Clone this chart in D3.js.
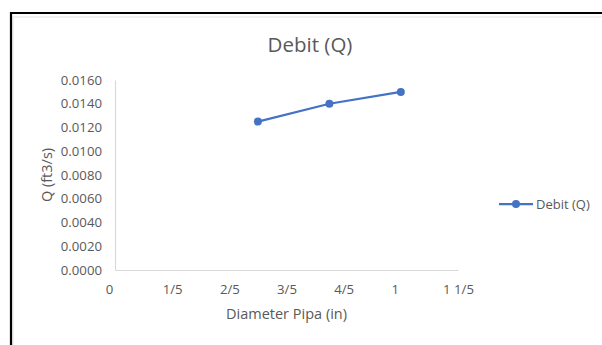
<!DOCTYPE html>
<html>
<head>
<meta charset="utf-8">
<script src="https://cdn.jsdelivr.net/npm/d3@7/dist/d3.min.js"></script>
<style>
  html, body { margin: 0; padding: 0; background: #fff; }
  svg { display: block; }
  text { font-family: "Open Sans", "Noto Sans", sans-serif; fill: #595959; }
</style>
</head>
<body>
<svg id="chart" width="602" height="345"></svg>
<script>
// Pipe diameter (in) and measured discharge Q (ft3/s)
const diameters = [0.5, 0.75, 1.0];
const debitValues = [0.0125, 0.0140, 0.0150];
const yTicks = [0, 0.002, 0.004, 0.006, 0.008, 0.010, 0.012, 0.014, 0.016];
const xTicks = [0, 0.2, 0.4, 0.6, 0.8, 1.0, 1.2];
const xTickLabels = ["0", "1/5", "2/5", "3/5", "4/5", "1", "1 1/5"];
const seriesName = "Debit (Q)";

const svg = d3.select("#chart");
const blue = "#4472C4";
const axisGrey = "#d9d9d9";

// outer frame
svg.append("rect").attr("x", 13).attr("y", 17).attr("width", 600).attr("height", 340)
  .attr("fill", "#fff").attr("stroke", "#e3e3e3").attr("stroke-width", 1);
svg.append("path").attr("d", "M11,345 V13 H602")
  .attr("fill", "none").attr("stroke", "#000").attr("stroke-width", 2.2);

const plot = { left: 115, right: 458, top: 80, bottom: 270 };
const x = d3.scaleLinear().domain([0, 1.2]).range([plot.left, plot.right]);
const y = d3.scaleLinear().domain([0, 0.016]).range([plot.bottom, plot.top]);

// y axis
const yAxis = svg.append("g").attr("transform", `translate(${plot.left},0)`)
  .call(d3.axisLeft(y).tickValues(yTicks).tickFormat(d3.format(".4f")).tickSize(0).tickPadding(13));
yAxis.select(".domain").attr("stroke", axisGrey).attr("stroke-width", 1.2);
yAxis.selectAll("text").style("font-size", "13.2px").attr("fill", "#595959");

// x axis
const xAxis = svg.append("g").attr("transform", `translate(0,${plot.bottom})`)
  .call(d3.axisBottom(x).tickValues(xTicks).tickFormat((d, i) => xTickLabels[i]).tickSize(0).tickPadding(15));
xAxis.select(".domain").attr("stroke", axisGrey).attr("stroke-width", 1.2);
xAxis.selectAll("text").style("font-size", "13.2px").attr("fill", "#595959")
  .attr("dx", (d, i) => (xTickLabels[i].length === 1 ? -6 : 0));

// titles
svg.append("text").attr("x", 310).attr("y", 52).attr("text-anchor", "middle")
  .style("font-size", "20.5px").text(seriesName);
svg.append("text").attr("x", (plot.left + plot.right) / 2).attr("y", 319).attr("text-anchor", "middle")
  .style("font-size", "14.5px").text("Diameter Pipa (in)");
svg.append("text").attr("transform", `translate(52,${(plot.top + plot.bottom) / 2}) rotate(-90)`)
  .attr("text-anchor", "middle").style("font-size", "14.5px").text("Q (ft3/s)");

// series
const pts = diameters.map((d, i) => [d, debitValues[i]]);
svg.append("path").datum(pts)
  .attr("d", d3.line().x(d => x(d[0])).y(d => y(d[1])))
  .attr("fill", "none").attr("stroke", blue).attr("stroke-width", 2.25);
svg.selectAll("circle.pt").data(pts).enter().append("circle").attr("class", "pt")
  .attr("cx", d => x(d[0])).attr("cy", d => y(d[1])).attr("r", 4).attr("fill", blue);

// legend
const lg = svg.append("g").attr("transform", "translate(499,204)");
lg.append("line").attr("x1", 0).attr("x2", 34).attr("y1", 0).attr("y2", 0)
  .attr("stroke", blue).attr("stroke-width", 2.25);
lg.append("circle").attr("cx", 17).attr("cy", 0).attr("r", 4).attr("fill", blue);
lg.append("text").attr("x", 37).attr("y", 0).attr("dy", "0.35em")
  .style("font-size", "13px").text(seriesName);
</script>
</body>
</html>
